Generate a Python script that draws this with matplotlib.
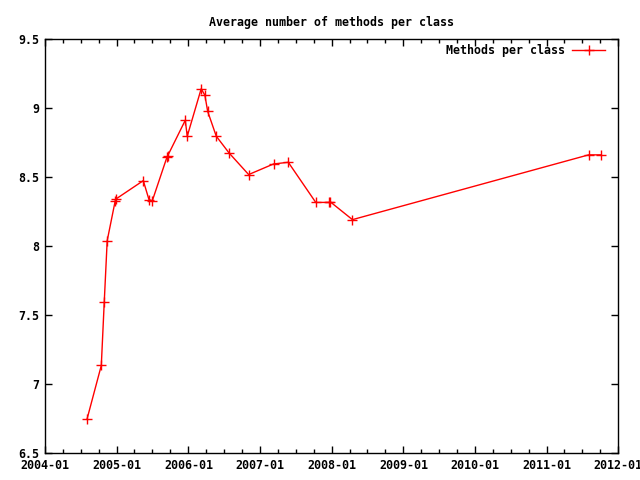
import numpy as np
import matplotlib
matplotlib.use('Agg')
import matplotlib.pyplot as plt
import matplotlib.dates as mdates

# Data
dates = ['2004-08-03', '2004-10-14', '2004-10-29', '2004-11-13', '2004-12-24',
         '2004-12-30', '2005-05-16', '2005-06-14', '2005-07-01', '2005-09-14',
         '2005-09-18', '2005-12-16', '2005-12-26', '2006-03-07', '2006-03-26',
         '2006-04-09', '2006-05-23', '2006-07-27', '2006-11-04', '2007-03-11',
         '2007-05-25', '2007-10-12', '2007-12-16', '2007-12-26', '2008-04-16',
         '2011-08-03', '2011-10-03']
methods = [6.75, 7.135, 7.595, 8.04, 8.33,
           8.345, 8.476, 8.338, 8.33, 8.648,
           8.658, 8.914, 8.798, 9.142, 9.096,
           8.979, 8.798, 8.677, 8.52, 8.597,
           8.609, 8.318, 8.318, 8.321, 8.193,
           8.663, 8.663]

title = 'Average number of methods per class'
label = 'Methods per class'

plt.rcParams['font.family'] = ['DejaVu Sans Mono']
plt.rcParams['font.weight'] = 'bold'
plt.rcParams['font.size'] = 8.4

x = np.array(dates, dtype='datetime64[D]')

fig = plt.figure(figsize=(6.4, 4.8), dpi=100)
ax = fig.add_axes([0.0703, 0.05625, 0.8958, 0.8615])

ax.plot(x, methods, color='red', linewidth=1, marker='+', markersize=7,
        markeredgewidth=1, label=label)

ax.set_xlim(np.datetime64('2004-01-01'), np.datetime64('2012-01-01'))
ax.set_ylim(6.5, 9.5)
ax.set_yticks(np.arange(6.5, 9.51, 0.5))
ax.set_yticklabels(['6.5', '7', '7.5', '8', '8.5', '9', '9.5'])

ax.xaxis.set_major_locator(mdates.YearLocator())
ax.xaxis.set_minor_locator(mdates.MonthLocator(bymonth=(4, 7, 10)))
ax.xaxis.set_major_formatter(mdates.DateFormatter('%Y-%m'))

ax.tick_params(which='both', direction='in', top=True, right=True, width=1)
ax.tick_params(which='major', length=5, pad=4)
ax.tick_params(which='minor', length=3)
for s in ax.spines.values():
    s.set_linewidth(1)

ax.set_title(title, fontsize=8.4, fontweight='bold', pad=10)
ax.legend(loc='upper right', bbox_to_anchor=(0.977, 0.988), frameon=False,
          markerfirst=False, handlelength=2.8, handletextpad=0.6,
          borderaxespad=0, borderpad=0, prop={'weight': 'bold', 'size': 8.4})

fig.savefig('out.png', dpi=100)
